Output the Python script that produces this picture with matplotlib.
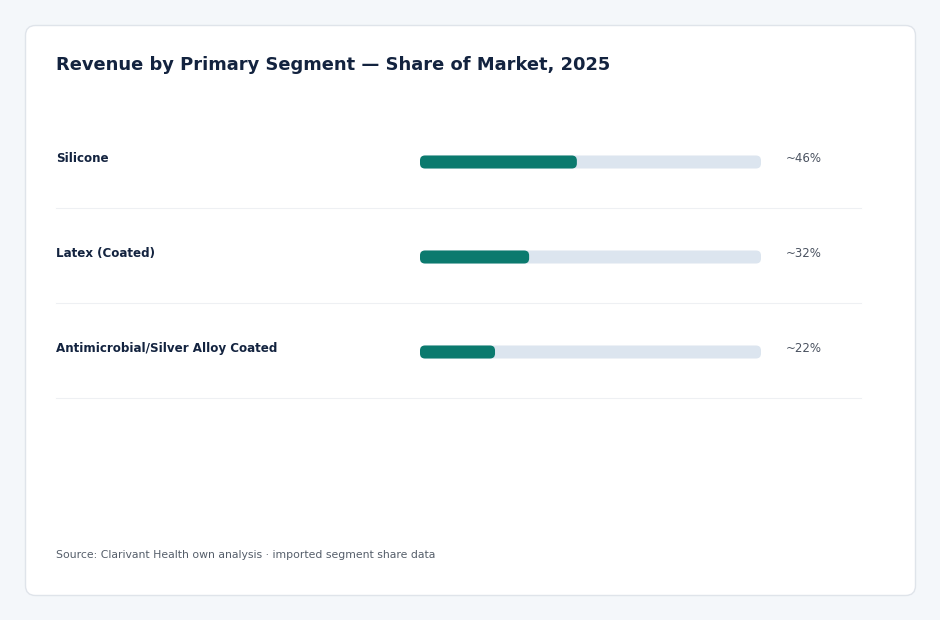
import matplotlib
matplotlib.use("Agg")
import matplotlib.pyplot as plt
from matplotlib.patches import FancyBboxPatch
from matplotlib.transforms import blended_transform_factory

plt.rcParams["font.family"] = ["DejaVu Sans"]

categories = ["Silicone", "Latex (Coated)", "Antimicrobial/Silver Alloy Coated"]
shares = [46, 32, 22]
value_labels = ["~46%", "~32%", "~22%"]
title = "Revenue by Primary Segment \u2014 Share of Market, 2025"
source = "Source: Clarivant Health own analysis \u00b7 imported segment share data"

W, H = 940, 620
fig = plt.figure(figsize=(W / 100, H / 100), dpi=100)
fig.patch.set_facecolor("#f4f7fa")

# background axes in pixel coordinates
bg = fig.add_axes([0, 0, 1, 1])
bg.set_xlim(0, W)
bg.set_ylim(H, 0)
bg.axis("off")
card = FancyBboxPatch((25.5, 25.5), 890, 570, boxstyle="round,pad=0,rounding_size=10",
                      facecolor="white", edgecolor="#dfe4ea", linewidth=1)
bg.add_patch(card)
bg.text(56, 65, title, fontsize=12.9, fontweight="bold", color="#13233f",
        va="center", ha="left")
bg.text(56, 555, source, fontsize=7.85, color="#555e6a", va="center", ha="left")

# bar axes
x0, x1 = 420, 761
row_h = 95
y_top = 162 - row_h / 2
n = len(categories)
ax = fig.add_axes([x0 / W, 1 - (y_top + n * row_h) / H, (x1 - x0) / W, n * row_h / H])
ax.set_xlim(0, 100)
ax.set_ylim(n - 0.5, -0.5)
ax.axis("off")

bar_h = 13 / row_h
r_px = 5
x_per_px = 100 / (x1 - x0)
y_per_px = 1 / row_h
aspect = y_per_px / x_per_px
tr = blended_transform_factory(bg.transData, ax.transData)
for i, (cat, v, lab) in enumerate(zip(categories, shares, value_labels)):
    track = FancyBboxPatch((0, i - bar_h / 2), 100, bar_h,
                           boxstyle=f"round,pad=0,rounding_size={r_px * x_per_px}",
                           mutation_aspect=aspect, facecolor="#dce5ef", edgecolor="none",
                           clip_on=False)
    ax.add_patch(track)
    fill = FancyBboxPatch((0, i - bar_h / 2), v, bar_h,
                          boxstyle=f"round,pad=0,rounding_size={r_px * x_per_px}",
                          mutation_aspect=aspect, facecolor="#0b7a6e", edgecolor="none",
                          clip_on=False)
    ax.add_patch(fill)
    ax.text(56, i - 4 / row_h, cat, transform=tr, fontsize=8.6, fontweight="bold",
            color="#13233f", va="center", ha="left", clip_on=False)
    ax.text(786, i - 4 / row_h, lab, transform=tr, fontsize=8.5, color="#4a5260",
            va="center", ha="left", clip_on=False)
    ax.plot([56, 861], [i + 46 / row_h, i + 46 / row_h], transform=tr, color="#eef0f3",
            linewidth=0.8, clip_on=False)

fig.savefig("out.png", dpi=100, facecolor=fig.get_facecolor())
